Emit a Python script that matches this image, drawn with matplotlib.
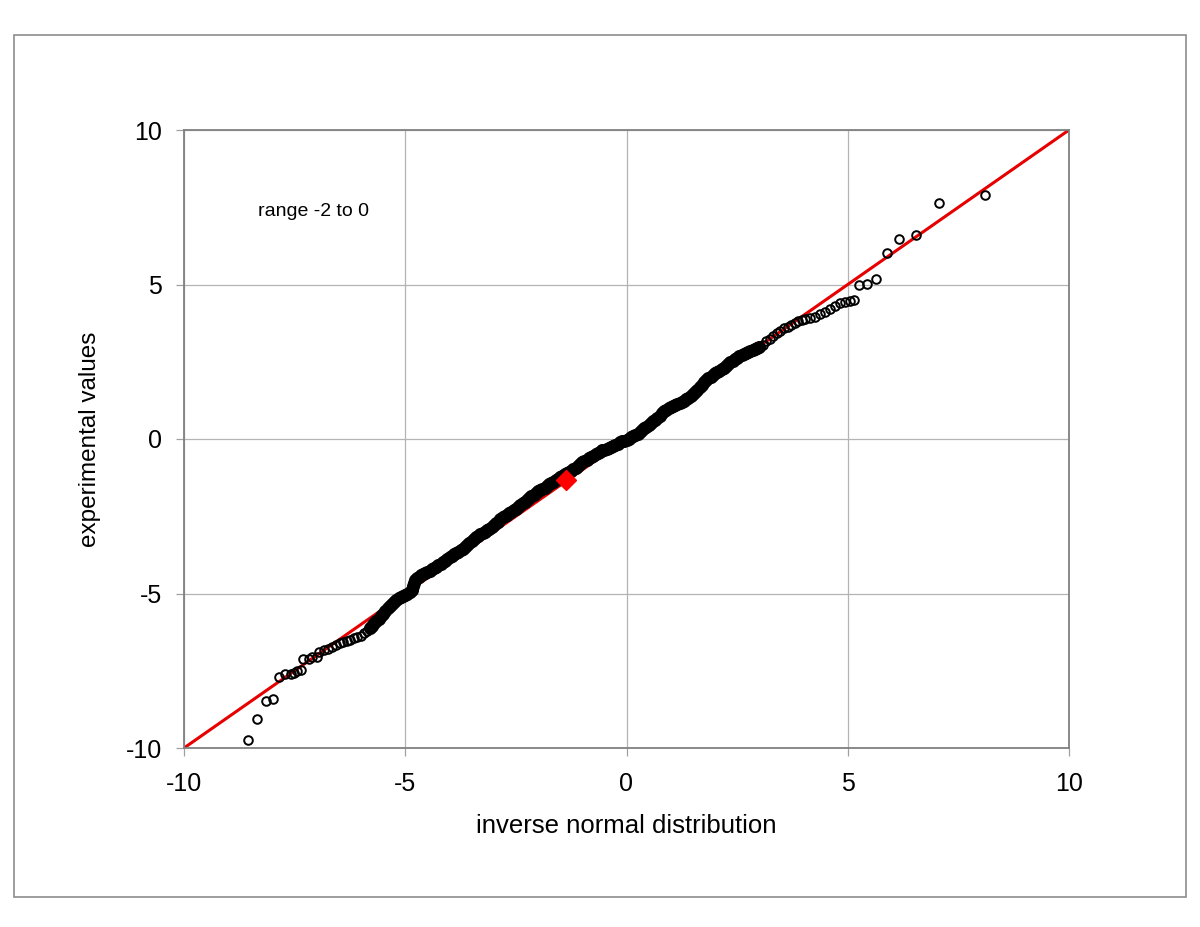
import matplotlib
matplotlib.use("Agg")
import matplotlib.pyplot as plt
from matplotlib.patches import Rectangle

plt.rcParams["font.family"] = ["Liberation Sans", "DejaVu Sans"]
plt.rcParams["axes.unicode_minus"] = False

tail_low_x = [-8.55, -8.34, -8.15, -7.98, -7.86, -7.72, -7.59, -7.51, -7.44, -7.35,
              -7.30, -7.18, -7.10, -7.00, -6.95]
tail_low_y = [-9.74, -9.06, -8.47, -8.42, -7.71, -7.60, -7.60, -7.56, -7.51, -7.48,
              -7.13, -7.13, -7.07, -7.05, -6.89]

lower_x = [-6.84, -6.75, -6.66, -6.57, -6.48, -6.40, -6.32, -6.24, -6.16, -6.08,
           -6.00, -5.93, -5.86]
lower_y = [-6.83, -6.78, -6.72, -6.66, -6.60, -6.57, -6.53, -6.49, -6.45, -6.41,
           -6.36, -6.29, -6.21]

band_x = [
    -5.80, -5.75, -5.70, -5.65, -5.60, -5.55, -5.50, -5.45, -5.40, -5.35,
    -5.30, -5.25, -5.20, -5.15, -5.10, -5.05, -5.00, -4.95, -4.90, -4.85,
    -4.82, -4.80, -4.77, -4.73, -4.70, -4.65, -4.60, -4.55, -4.50, -4.45,
    -4.40, -4.35, -4.30, -4.25, -4.20, -4.15, -4.10, -4.05, -4.00, -3.95,
    -3.90, -3.85, -3.80, -3.75, -3.70, -3.65, -3.60, -3.55, -3.50, -3.45,
    -3.40, -3.35, -3.30, -3.25, -3.20, -3.15, -3.10, -3.05, -3.00, -2.95,
    -2.90, -2.85, -2.80, -2.75, -2.70, -2.65, -2.60, -2.55, -2.50, -2.45,
    -2.40, -2.35, -2.30, -2.25, -2.20, -2.15, -2.10, -2.05, -2.00, -1.95,
    -1.90, -1.85, -1.80, -1.75, -1.70, -1.65, -1.60, -1.55, -1.50, -1.45,
    -1.40, -1.35, -1.30, -1.25, -1.20, -1.15, -1.10, -1.05, -1.00, -0.95,
    -0.90, -0.85, -0.80, -0.75, -0.70, -0.65, -0.60, -0.55, -0.50, -0.45,
    -0.40, -0.35, -0.30, -0.25, -0.20, -0.15, -0.10, -0.05, 0.00, 0.05,
    0.10, 0.15, 0.20, 0.25, 0.30, 0.35, 0.40, 0.45, 0.50, 0.55,
    0.60, 0.65, 0.70, 0.75, 0.80, 0.85, 0.90, 0.95, 1.00, 1.05,
    1.10, 1.15, 1.20, 1.25, 1.30, 1.35, 1.40, 1.45, 1.50, 1.55,
    1.60, 1.65, 1.70, 1.75, 1.80, 1.85, 1.90, 1.95, 2.00, 2.05,
    2.10, 2.15, 2.20, 2.25, 2.30, 2.35, 2.40, 2.45, 2.50, 2.55,
    2.60, 2.65, 2.70, 2.75, 2.80, 2.85, 2.90, 2.95, 3.00,
]
band_y = [
    -6.12, -6.04, -5.96, -5.88, -5.81, -5.74, -5.67, -5.57, -5.48, -5.41,
    -5.34, -5.27, -5.21, -5.15, -5.10, -5.07, -5.04, -5.00, -4.95, -4.88,
    -4.76, -4.65, -4.56, -4.49, -4.45, -4.41, -4.37, -4.33, -4.29, -4.26,
    -4.22, -4.18, -4.14, -4.09, -4.04, -3.99, -3.94, -3.89, -3.83, -3.78,
    -3.73, -3.69, -3.65, -3.60, -3.55, -3.49, -3.42, -3.35, -3.29, -3.24,
    -3.18, -3.13, -3.09, -3.04, -3.00, -2.96, -2.91, -2.85, -2.79, -2.73,
    -2.67, -2.60, -2.54, -2.49, -2.45, -2.40, -2.35, -2.30, -2.25, -2.19,
    -2.13, -2.08, -2.03, -1.97, -1.91, -1.86, -1.80, -1.74, -1.69, -1.65,
    -1.61, -1.57, -1.52, -1.47, -1.42, -1.38, -1.34, -1.29, -1.24, -1.19,
    -1.14, -1.10, -1.06, -1.02, -0.98, -0.93, -0.87, -0.81, -0.76, -0.72,
    -0.67, -0.62, -0.58, -0.54, -0.49, -0.45, -0.41, -0.37, -0.34, -0.31,
    -0.28, -0.25, -0.22, -0.19, -0.15, -0.11, -0.08, -0.05, -0.02, 0.01,
    0.05, 0.09, 0.12, 0.16, 0.22, 0.29, 0.35, 0.40, 0.45, 0.51,
    0.57, 0.63, 0.69, 0.76, 0.83, 0.89, 0.95, 1.00, 1.04, 1.07,
    1.10, 1.13, 1.16, 1.20, 1.24, 1.29, 1.34, 1.39, 1.45, 1.52,
    1.60, 1.68, 1.76, 1.84, 1.91, 1.97, 2.02, 2.07, 2.12, 2.16,
    2.20, 2.25, 2.30, 2.36, 2.42, 2.48, 2.54, 2.59, 2.63, 2.67,
    2.71, 2.74, 2.78, 2.81, 2.84, 2.87, 2.90, 2.94, 2.98,
]

upper_x = [3.08, 3.16, 3.24, 3.32, 3.40, 3.48, 3.56, 3.64, 3.72, 3.80, 3.88, 3.96, 4.04]
upper_y = [3.05, 3.17, 3.25, 3.33, 3.42, 3.50, 3.58, 3.64, 3.70, 3.76, 3.82, 3.86, 3.89]

tail_high_x = [4.15, 4.26, 4.37, 4.49, 4.60, 4.71, 4.82, 4.94, 5.05, 5.13,
               5.26, 5.44, 5.64, 5.88, 6.16, 6.54, 7.06, 8.10]
tail_high_y = [3.92, 3.96, 4.05, 4.12, 4.22, 4.31, 4.40, 4.44, 4.48, 4.50,
               4.98, 5.02, 5.18, 6.01, 6.46, 6.61, 7.65, 7.90]

ref_line = [-10, 10]
marked_point = (-1.37, -1.33)
range_note = "range -2 to 0"

sparse_x = tail_low_x + lower_x + upper_x + tail_high_x
sparse_y = tail_low_y + lower_y + upper_y + tail_high_y

fig = plt.figure(figsize=(12, 9.27), dpi=100)
fig.patches.append(Rectangle((14 / 1200, 1 - 897 / 927), (1186 - 14) / 1200, (897 - 35) / 927,
                             transform=fig.transFigure, fill=False,
                             edgecolor="#8c8c8c", linewidth=1.2))
ax = fig.add_axes([184 / 1200, 1 - 748 / 927, (1069 - 184) / 1200, (748 - 130) / 927])

ax.plot(ref_line, ref_line, color="#e60000", linewidth=2.2, zorder=2)
circle_style = dict(linestyle="none", marker="o", markerfacecolor="none",
                    markeredgecolor="black", zorder=3)
ax.plot(sparse_x, sparse_y, markersize=6.2, markeredgewidth=1.4, **circle_style)
# the crowded middle overlaps into a solid black band
ax.plot(band_x, band_y, markersize=6.8, markeredgewidth=2.6, **circle_style)
ax.plot([marked_point[0]], [marked_point[1]], linestyle="none", marker="D",
        markersize=10.5, color="#ff0000", zorder=4)

ax.set_xlim(-10, 10)
ax.set_ylim(-10, 10)
ax.set_xticks([-10, -5, 0, 5, 10])
ax.set_yticks([-10, -5, 0, 5, 10])
ax.grid(True, color="#b4b4b4", linewidth=0.9)
ax.set_axisbelow(True)
for side in ["left", "bottom", "top", "right"]:
    ax.spines[side].set_color("#808080")
    ax.spines[side].set_linewidth(1.3)
ax.tick_params(direction="out", length=6, width=0.9, color="#a0a0a0",
               labelsize=18, pad=11)
ax.tick_params(axis="y", pad=10)
ax.set_xlabel("inverse normal distribution", fontsize=18.5, labelpad=13)
ax.set_ylabel("experimental values", fontsize=17.5, labelpad=18)
ax.text(-8.33, 7.22, range_note, fontsize=14, va="baseline", ha="left")

fig.savefig("out.png", dpi=100)
